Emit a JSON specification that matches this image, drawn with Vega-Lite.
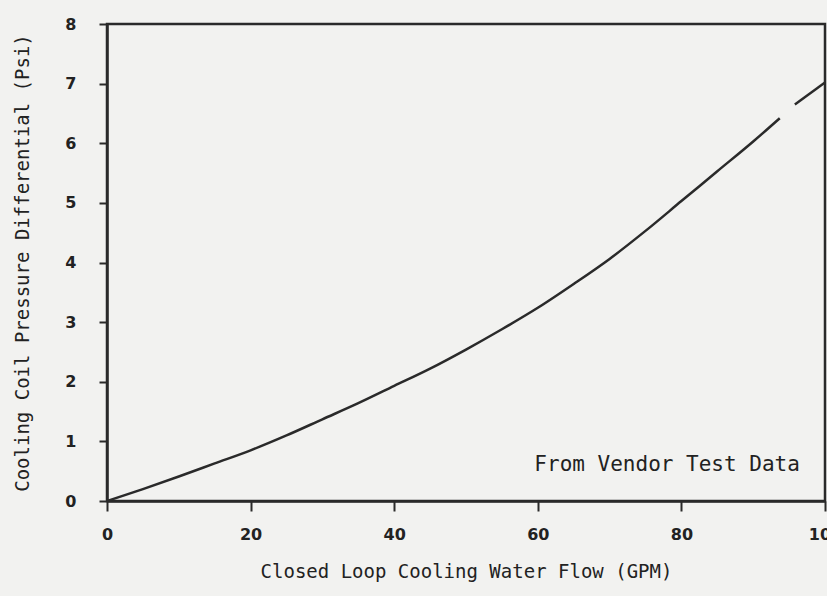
{
  "$schema": "https://vega.github.io/schema/vega-lite/v6.json",
  "autosize": "none",
  "width": 718,
  "height": 477,
  "padding": {"left": 107, "top": 24, "right": 2, "bottom": 95},
  "background": "#f2f2f0",
  "config": {
    "view": {"stroke": "#2a2a2a", "strokeWidth": 2.5},
    "font": "DejaVu Sans"
  },
  "datasets": {
    "curve": [
      {"flow": 0, "dp": 0, "seg": "a"},
      {"flow": 5, "dp": 0.2, "seg": "a"},
      {"flow": 10, "dp": 0.41, "seg": "a"},
      {"flow": 15, "dp": 0.63, "seg": "a"},
      {"flow": 20, "dp": 0.85, "seg": "a"},
      {"flow": 25, "dp": 1.1, "seg": "a"},
      {"flow": 30, "dp": 1.37, "seg": "a"},
      {"flow": 35, "dp": 1.64, "seg": "a"},
      {"flow": 40, "dp": 1.93, "seg": "a"},
      {"flow": 45, "dp": 2.22, "seg": "a"},
      {"flow": 50, "dp": 2.54, "seg": "a"},
      {"flow": 55, "dp": 2.88, "seg": "a"},
      {"flow": 60, "dp": 3.24, "seg": "a"},
      {"flow": 65, "dp": 3.64, "seg": "a"},
      {"flow": 70, "dp": 4.06, "seg": "a"},
      {"flow": 75, "dp": 4.53, "seg": "a"},
      {"flow": 80, "dp": 5.03, "seg": "a"},
      {"flow": 85, "dp": 5.53, "seg": "a"},
      {"flow": 90, "dp": 6.03, "seg": "a"},
      {"flow": 93.7, "dp": 6.42, "seg": "a"},
      {"flow": 95.8, "dp": 6.65, "seg": "b"},
      {"flow": 100, "dp": 7.02, "seg": "b"}
    ],
    "note": [
      {"flow": 96.5, "dp": 0.6, "label": "From Vendor Test Data"}
    ]
  },
  "layer": [
    {
      "data": {"name": "curve"},
      "mark": {"type": "line", "color": "#2a2a2a", "strokeWidth": 2.5, "interpolate": "monotone", "clip": true},
      "encoding": {
        "x": {
          "field": "flow", "type": "quantitative",
          "scale": {"domain": [0, 100], "nice": false},
          "axis": {
            "title": "Closed Loop Cooling Water Flow (GPM)",
            "values": [0, 20, 40, 60, 80, 100],
            "format": "d",
            "grid": false,
            "domainColor": "#2a2a2a", "domainWidth": 2.5,
            "tickColor": "#2a2a2a", "tickWidth": 2, "tickSize": 10,
            "labelFont": "DejaVu Sans", "labelFontSize": 16, "labelFontWeight": "bold",
            "labelColor": "#222", "labelPadding": 15, "labelFlush": false,
            "titleFont": "DejaVu Sans Mono", "titleFontSize": 19, "titleFontWeight": "normal",
            "titleColor": "#222", "titlePadding": 20
          }
        },
        "y": {
          "field": "dp", "type": "quantitative",
          "scale": {"domain": [0, 8], "nice": false},
          "axis": {
            "title": "Cooling Coil Pressure Differential (Psi)",
            "values": [0, 1, 2, 3, 4, 5, 6, 7, 8],
            "format": "d",
            "grid": false,
            "domainColor": "#2a2a2a", "domainWidth": 2.5,
            "tickColor": "#2a2a2a", "tickWidth": 2, "tickSize": 8,
            "labelFont": "DejaVu Sans", "labelFontSize": 16, "labelFontWeight": "bold",
            "labelColor": "#222", "labelPadding": 23, "labelFlush": false,
            "titleFont": "DejaVu Sans Mono", "titleFontSize": 19, "titleFontWeight": "normal",
            "titleColor": "#222", "titlePadding": 32
          }
        },
        "detail": {"field": "seg", "type": "nominal"}
      }
    },
    {
      "data": {"name": "note"},
      "mark": {"type": "text", "align": "right", "baseline": "middle", "font": "DejaVu Sans Mono", "fontSize": 21, "color": "#222"},
      "encoding": {
        "x": {"field": "flow", "type": "quantitative"},
        "y": {"field": "dp", "type": "quantitative"},
        "text": {"field": "label"}
      }
    }
  ]
}
